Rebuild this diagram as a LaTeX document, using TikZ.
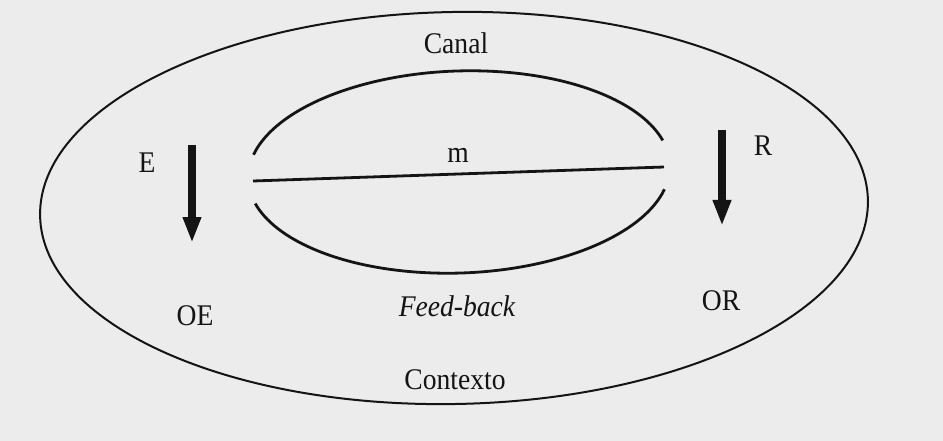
\documentclass[tikz,border=0pt]{standalone}
\usepackage{fontspec}
\setmainfont{Liberation Serif}[FakeStretch=0.92]
\usetikzlibrary{arrows.meta}
\definecolor{paper}{RGB}{236,236,236}
\definecolor{ink}{RGB}{20,20,20}
\tikzset{
  lbl/.style={font=\fontsize{30}{32}\selectfont, text=ink, inner sep=0pt},
  outerline/.style={draw=ink, line width=2pt},
  innerline/.style={draw=ink, line width=2.8pt},
  bigarrow/.style={draw=ink, line width=8pt, -{Triangle[width=17pt,length=26pt]}}
}
\begin{document}
\begin{tikzpicture}[x=1pt,y=-1pt]
  \fill[paper] (0,0) rectangle (943,441);
  \useasboundingbox (0,0) rectangle (943,441);
  % outer ellipse
  \draw[outerline, rotate around={1.1:(454,208)}] (454,208) ellipse[x radius=414, y radius=196];
  % inner ellipse with gaps
  \begin{scope}[rotate around={2:(459,172)}]
    \draw[innerline] (459,172) ++(14:211 and 101) arc[start angle=14, end angle=166, x radius=211, y radius=101];
    \draw[innerline] (459,172) ++(194:211 and 101) arc[start angle=194, end angle=346, x radius=211, y radius=101];
  \end{scope}
  % message line
  \coordinate (mL) at (253,181);
  \coordinate (mR) at (664,167);
  \draw[innerline] (mL) -- (mR);
  % arrows
  \coordinate (E1) at (192,145);
  \coordinate (E2) at (192,243);
  \coordinate (R1) at (722,130);
  \coordinate (R2) at (722,226);
  \draw[bigarrow] (E1) -- (E2);
  \draw[bigarrow] (R1) -- (R2);
  % labels
  \node[lbl] (canal) at (456,43) {Canal};
  \node[lbl] (contexto) at (455,380) {Contexto};
  \node[lbl] (m) at (458,155) {m};
  \node[lbl] (E) at (147,163) {E};
  \node[lbl] (R) at (763,146) {R};
  \node[lbl] (OE) at (195,316) {OE};
  \node[lbl] (OR) at (721,301) {OR};
  \node[lbl, font=\fontsize{30}{32}\selectfont\itshape] (fb) at (457,306) {Feed-back};
\end{tikzpicture}
\end{document}
